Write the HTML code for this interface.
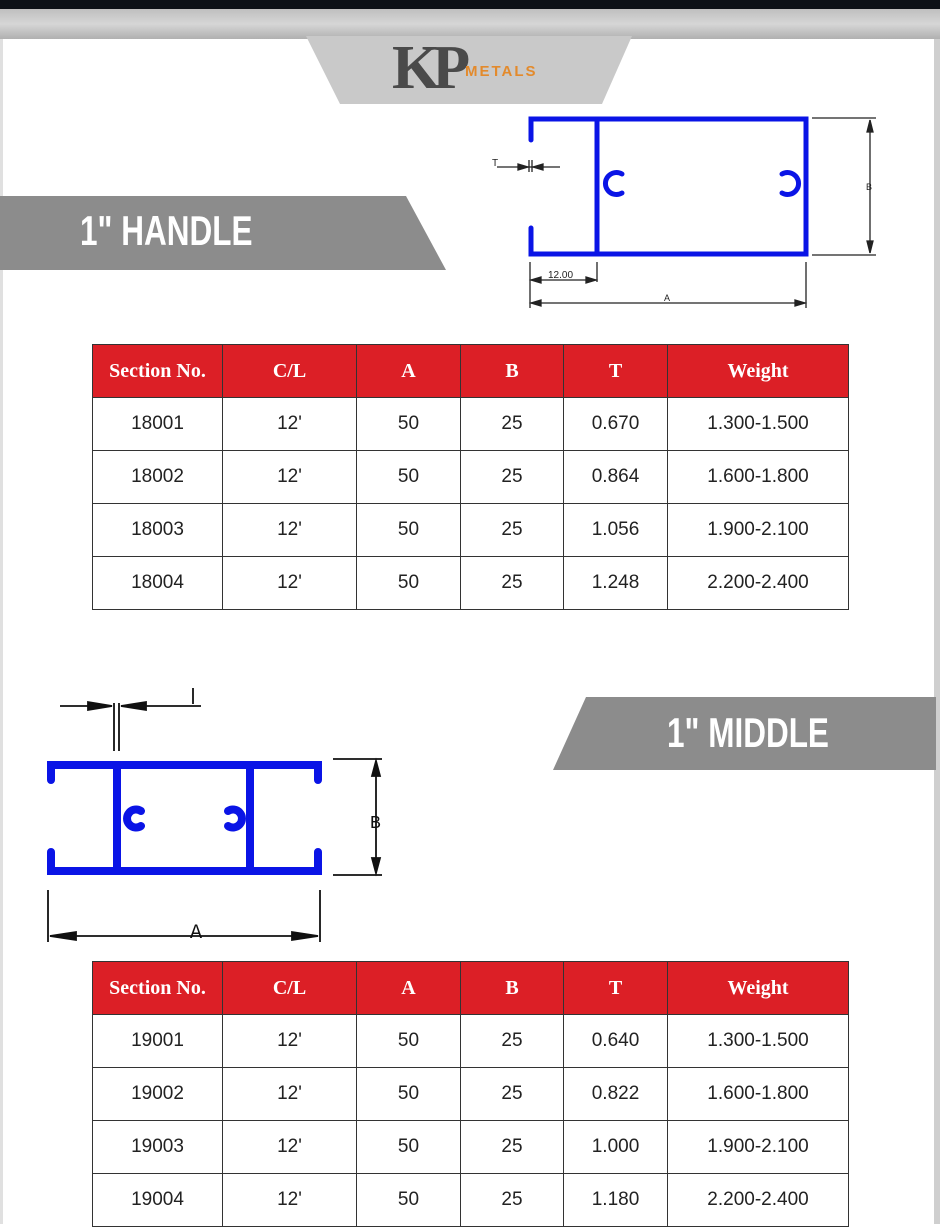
<!DOCTYPE html>
<html><head><meta charset="utf-8">
<style>
html,body{margin:0;padding:0;}
body{width:940px;height:1224px;position:relative;overflow:hidden;background:#fff;font-family:"Liberation Sans",sans-serif;}
.abs{position:absolute;}
table{position:absolute;left:92px;border-collapse:collapse;table-layout:fixed;}
td,th{border:1.5px solid #333;text-align:center;padding:0;}
th{background:#dc1f26;color:#fff;font-family:"Liberation Serif",serif;font-weight:bold;font-size:20px;height:52px;}
td{font-size:19px;color:#222;height:52px;}
.banner-text{position:absolute;color:#fff;font-family:"Liberation Sans",sans-serif;font-weight:bold;font-size:42px;transform:scaleX(0.75);transform-origin:left;}
</style></head>
<body>
<div class="abs" style="left:0;top:0;width:940px;height:9px;background:#0d1117"></div>
<div class="abs" style="left:0;top:9px;width:940px;height:30px;background:linear-gradient(#bfbfbf,#d6d6d6 50%,#b0b0b0)"></div>
<div class="abs" style="left:934px;top:39px;width:6px;height:1185px;background:#cfcfcf"></div>
<div class="abs" style="left:0;top:39px;width:3px;height:1185px;background:#e0e0e0"></div>
<svg class="abs" style="left:0;top:0" width="940" height="1224">
  <polygon points="306,36 632,36 602,104 340,104" fill="#c9c9c9"/>
  <text x="392" y="88" font-family="Liberation Serif,serif" font-weight="bold" font-size="62" fill="#4a4a4a" letter-spacing="-8">KP</text>
  <text x="465" y="76" font-family="Liberation Sans,sans-serif" font-weight="bold" font-size="15" fill="#e38a2c" letter-spacing="2">METALS</text>
  <polygon points="0,196 406,196 446,270 0,270" fill="#8c8c8c"/>
  <polygon points="586,697 936,697 936,770 553,770" fill="#8c8c8c"/>
  <g stroke="#0a14e6" stroke-width="5" fill="none" stroke-linecap="round">
    <path d="M531,140 V119 H806 V254 H531 V228"/>
    <path d="M597,119 V254"/>
    <path d="M622,174 A11,11 0 1 0 622,193"/>
    <path d="M782,174 A11,11 0 1 1 782,193"/>
  </g>
  <g stroke="#222" stroke-width="1.3" fill="#222">
    <line x1="812" y1="118" x2="876" y2="118"/><line x1="812" y1="255" x2="876" y2="255"/>
    <line x1="870" y1="120" x2="870" y2="253"/>
    <polygon points="870,120 867,132 873,132"/><polygon points="870,253 867,241 873,241"/>
    <line x1="530" y1="262" x2="530" y2="308"/><line x1="597" y1="262" x2="597" y2="282"/><line x1="806" y1="262" x2="806" y2="308"/>
    <line x1="531" y1="280" x2="596" y2="280"/><line x1="531" y1="303" x2="805" y2="303"/>
    <polygon points="531,280 541,277 541,283"/><polygon points="596,280 586,277 586,283"/>
    <polygon points="531,303 541,300 541,306"/><polygon points="805,303 795,300 795,306"/>
    <line x1="497" y1="167" x2="560" y2="167"/><line x1="529" y1="160" x2="529" y2="172"/><line x1="532" y1="160" x2="532" y2="172"/>
    <polygon points="528,167 518,164 518,170"/><polygon points="533,167 543,164 543,170"/>
  </g>
  <text x="492" y="166" font-size="10" font-family="Liberation Sans,sans-serif" fill="#222">T</text>
  <text x="548" y="278" font-size="10" font-family="Liberation Sans,sans-serif" fill="#222">12.00</text>
  <text x="664" y="301" font-size="9" font-family="Liberation Sans,sans-serif" fill="#222">A</text>
  <text x="866" y="190" font-size="9" font-family="Liberation Sans,sans-serif" fill="#222">B</text>
  <g stroke="#0a14e6" stroke-width="8" fill="none" stroke-linecap="round">
    <path d="M51,780 V765 H318 V780"/>
    <path d="M51,852 V871 H318 V852"/>
    <path d="M117,765 V871"/><path d="M250,765 V871"/>
    <path d="M141,811 A9,9 0 1 0 141,826"/>
    <path d="M228,811 A9,9 0 1 1 228,826"/>
  </g>
  <g stroke="#111" stroke-width="1.8" fill="#111">
    <line x1="333" y1="759" x2="382" y2="759"/><line x1="333" y1="875" x2="382" y2="875"/>
    <line x1="376" y1="761" x2="376" y2="873"/>
    <polygon points="376,761 372,776 380,776"/><polygon points="376,873 372,858 380,858"/>
    <line x1="48" y1="890" x2="48" y2="942"/><line x1="320" y1="890" x2="320" y2="942"/>
    <line x1="50" y1="936" x2="318" y2="936"/>
    <polygon points="50,936 76,932 76,940"/><polygon points="318,936 292,932 292,940"/>
    <line x1="114" y1="703" x2="114" y2="751"/><line x1="119" y1="703" x2="119" y2="751"/>
    <line x1="60" y1="706" x2="112" y2="706"/><line x1="121" y1="706" x2="201" y2="706"/>
    <polygon points="112,706 88,702 88,710"/><polygon points="121,706 146,702 146,710"/>
    <line x1="193" y1="688" x2="193" y2="704"/>
  </g>
  <text x="370" y="828" font-size="18" font-family="Liberation Mono,monospace" fill="#111">B</text>
  <text x="190" y="938" font-size="20" font-family="Liberation Mono,monospace" fill="#111">A</text>
</svg>
<div class="banner-text" style="left:80px;top:207px">1" HANDLE</div>
<div class="banner-text" style="left:667px;top:709px">1" MIDDLE</div>

<table style="top:344px">
<colgroup><col style="width:130px"><col style="width:134px"><col style="width:104px"><col style="width:103px"><col style="width:104px"><col style="width:181px"></colgroup>
<tr><th>Section No.</th><th>C/L</th><th>A</th><th>B</th><th>T</th><th>Weight</th></tr>
<tr><td>18001</td><td>12'</td><td>50</td><td>25</td><td>0.670</td><td>1.300-1.500</td></tr>
<tr><td>18002</td><td>12'</td><td>50</td><td>25</td><td>0.864</td><td>1.600-1.800</td></tr>
<tr><td>18003</td><td>12'</td><td>50</td><td>25</td><td>1.056</td><td>1.900-2.100</td></tr>
<tr><td>18004</td><td>12'</td><td>50</td><td>25</td><td>1.248</td><td>2.200-2.400</td></tr>
</table>

<table style="top:961px">
<colgroup><col style="width:130px"><col style="width:134px"><col style="width:104px"><col style="width:103px"><col style="width:104px"><col style="width:181px"></colgroup>
<tr><th>Section No.</th><th>C/L</th><th>A</th><th>B</th><th>T</th><th>Weight</th></tr>
<tr><td>19001</td><td>12'</td><td>50</td><td>25</td><td>0.640</td><td>1.300-1.500</td></tr>
<tr><td>19002</td><td>12'</td><td>50</td><td>25</td><td>0.822</td><td>1.600-1.800</td></tr>
<tr><td>19003</td><td>12'</td><td>50</td><td>25</td><td>1.000</td><td>1.900-2.100</td></tr>
<tr><td>19004</td><td>12'</td><td>50</td><td>25</td><td>1.180</td><td>2.200-2.400</td></tr>
</table>
</body></html>
